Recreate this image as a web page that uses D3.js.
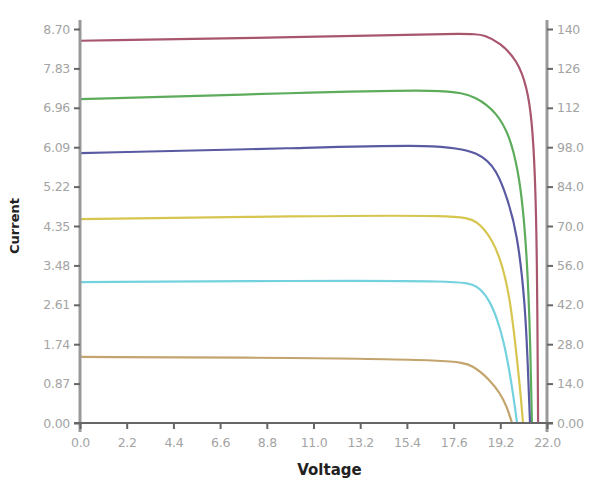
<!DOCTYPE html>
<html>
<head>
<meta charset="utf-8">
<script src="https://cdn.jsdelivr.net/npm/d3@7"></script>
<style>
body { margin:0; background:#fff; }
.tick text { font-family: "DejaVu Sans", sans-serif; fill:#a4a4a4; }
</style>
</head>
<body>
<div id="chart"></div>
<script>
var W = 599, H = 478;
var margin = {left:80, right:52, top:29, bottom:55};

// voltage/current points
var redV = [0, 10.36, 18.37, 19.08, 19.79, 20.59, 21.06, 21.29, 21.43, 21.53, 21.58];
var redI = [8.44, 8.52, 8.61, 8.57, 8.39, 8.02, 7.42, 6.69, 5.59, 3.82, 0];
var greenV = [0, 10.36, 17.43, 18.70, 19.64, 20.26, 20.63, 20.87, 21.06, 21.20, 21.29];
var greenI = [7.15, 7.29, 7.38, 7.20, 6.85, 6.32, 5.59, 4.77, 3.60, 2.05, 0];
var blueV = [0, 10.36, 16.96, 18.84, 19.64, 20.16, 20.59, 20.96, 21.10, 21.20];
var blueI = [5.96, 6.07, 6.16, 5.98, 5.59, 4.92, 4.20, 2.72, 1.24, 0];
var yellowV = [0, 10.36, 17.90, 18.70, 19.46, 19.93, 20.26, 20.49, 20.73, 20.87];
var yellowI = [4.50, 4.57, 4.59, 4.48, 4.04, 3.44, 2.72, 1.83, 0.79, 0];
var cyanV = [0, 10.36, 17.90, 18.70, 19.31, 19.79, 20.12, 20.40, 20.59];
var cyanI = [3.11, 3.14, 3.14, 3.05, 2.72, 2.12, 1.46, 0.66, 0];
var tanV = [0, 10.36, 17.67, 18.51, 19.31, 19.79, 20.12, 20.35];
var tanI = [1.46, 1.44, 1.39, 1.28, 0.95, 0.66, 0.35, 0];

var xTicks = [0, 2.2, 4.4, 6.6, 8.8, 11, 13.2, 15.4, 17.6, 19.8, 22];
var xTickLabels = ["0.0","2.2","4.4","6.6","8.8","11.0","13.2","15.4","17.6","19.2","22.0"];
var yTicks = [0, 0.87, 1.74, 2.61, 3.48, 4.35, 5.22, 6.09, 6.96, 7.83, 8.70];
var yTickLabels = ["0.00","0.87","1.74","2.61","3.48","4.35","5.22","6.09","6.96","7.83","8.70"];
var pTicks = [0, 14, 28, 42, 56, 70, 84, 98, 112, 126, 140];
var pTickLabels = ["0.00","14.0","28.0","42.0","56.0","70.0","84.0","98.0","112","126","140"];

var series = [
	{v:redV, i:redI, color:'#a8566e'},
	{v:greenV, i:greenI, color:'#5cac5c'},
	{v:blueV, i:blueI, color:'#5a5aa2'},
	{v:yellowV, i:yellowI, color:'#d6c650'},
	{v:cyanV, i:cyanI, color:'#74d2de'},
	{v:tanV, i:tanI, color:'#c2a46c'}
];

var svg = d3.select('#chart').append('svg')
	.attr('width', W).attr('height', H);

var x = d3.scaleLinear().domain([0,22]).range([margin.left, W-margin.right]);
var y = d3.scaleLinear().domain([0,8.7]).range([H-margin.bottom, margin.top]);
var y2 = d3.scaleLinear().domain([0,140]).range([H-margin.bottom, margin.top]);

var line = d3.line()
	.x(function(d) {return x(d[0])})
	.y(function(d) {return y(d[1])})
	.curve(d3.curveBasis);

series.forEach(function(s) {
	var pts = s.v.map(function(v, k) {return [v, s.i[k]]});
	svg.append('path')
		.datum(pts)
		.attr('fill','none')
		.attr('stroke', s.color)
		.attr('stroke-width', 2.2)
		.attr('d', line);
});

// left axis
var gl = svg.append('g')
	.attr('transform','translate('+margin.left+',0)')
	.call(d3.axisLeft(y).tickValues(yTicks).tickFormat(function(d,k){return yTickLabels[k]}).tickSize(6).tickPadding(4));
gl.select('.domain').attr('stroke','#999').attr('stroke-width',3).attr('d','M0,'+(margin.top-9)+'V'+(H-margin.bottom+9));

// right axis
var gr = svg.append('g')
	.attr('transform','translate('+(W-margin.right)+',0)')
	.call(d3.axisRight(y2).tickValues(pTicks).tickFormat(function(d,k){return pTickLabels[k]}).tickSize(6).tickPadding(4));
gr.select('.domain').attr('stroke','#999').attr('stroke-width',3).attr('d','M0,'+(margin.top-9)+'V'+(H-margin.bottom+9));

// bottom axis
var gb = svg.append('g')
	.attr('transform','translate(0,'+(H-margin.bottom)+')')
	.call(d3.axisBottom(x).tickValues(xTicks).tickFormat(function(d,k){return xTickLabels[k]}).tickSize(6).tickPadding(9));
gb.select('.domain').attr('stroke','#666').attr('stroke-width',2).attr('d','M'+(margin.left-6)+',0H'+(W-margin.right+6));

svg.selectAll('.tick line').attr('stroke','#666').attr('stroke-width',2);
svg.selectAll('.tick text').style('font-size','12.5px').style('letter-spacing','-0.3px');

svg.append('text')
	.attr('transform','translate(19,'+((margin.top+H-margin.bottom)/2)+') rotate(-90)')
	.attr('text-anchor','middle')
	.style('font-family','"DejaVu Sans", sans-serif')
	.style('font-weight','bold')
	.style('font-size','13px')
	.style('fill','#222')
	.text('Current');

svg.append('text')
	.attr('x', (margin.left+W-margin.right)/2 + 16)
	.attr('y', H-3)
	.attr('text-anchor','middle')
	.style('font-family','"DejaVu Sans", sans-serif')
	.style('font-weight','bold')
	.style('font-size','15px')
	.style('fill','#222')
	.text('Voltage');
</script>
</body>
</html>
